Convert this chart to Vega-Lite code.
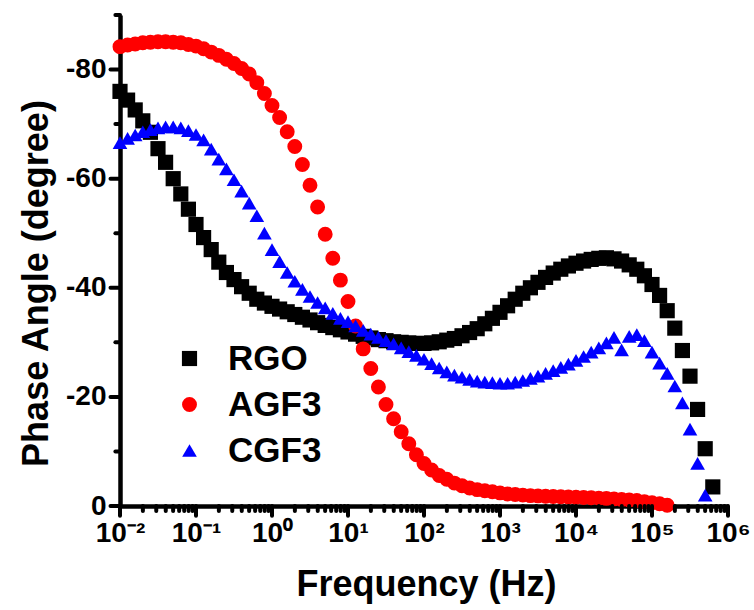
{
  "$schema": "https://vega.github.io/schema/vega-lite/v6.json",
  "width": 608,
  "height": 491,
  "autosize": {"type": "none"},
  "padding": {"left": 120, "top": 15, "right": 26, "bottom": 104},
  "background": "white",
  "config": {
    "view": {"stroke": null},
    "font": "Liberation Sans",
    "axis": {"grid": false, "ticks": false, "domainColor": "black", "domainWidth": 4.5, "labelColor": "black", "labelFont": "Liberation Sans", "labelFontWeight": "bold", "titleFont": "Liberation Sans", "titleFontWeight": "bold", "titleColor": "black"},
    "legend": {"labelFont": "Liberation Sans", "labelFontWeight": "bold", "labelFontSize": 35, "labelColor": "black", "symbolSize": 220, "symbolStrokeWidth": 0, "labelOffset": 21, "rowPadding": 10, "padding": 0}
  },
  "layer": [
    {
      "data": {"values": [
        {"s":"RGO","f":0.01,"p":-76.0},{"s":"RGO","f":0.01259,"p":-74.4},{"s":"RGO","f":0.01585,"p":-72.6},{"s":"RGO","f":0.01995,"p":-70.6},{"s":"RGO","f":0.02512,"p":-68.5},{"s":"RGO","f":0.03162,"p":-65.5},{"s":"RGO","f":0.03981,"p":-63.0},{"s":"RGO","f":0.05012,"p":-60.0},{"s":"RGO","f":0.0631,"p":-57.2},{"s":"RGO","f":0.07943,"p":-54.4},
        {"s":"RGO","f":0.1,"p":-51.6},{"s":"RGO","f":0.1259,"p":-49.2},{"s":"RGO","f":0.1585,"p":-47.0},{"s":"RGO","f":0.1995,"p":-44.7},{"s":"RGO","f":0.2512,"p":-42.8},{"s":"RGO","f":0.3162,"p":-41.5},{"s":"RGO","f":0.3981,"p":-40.2},{"s":"RGO","f":0.5012,"p":-39.0},{"s":"RGO","f":0.631,"p":-37.9},{"s":"RGO","f":0.7943,"p":-37.2},
        {"s":"RGO","f":1,"p":-36.6},{"s":"RGO","f":1.259,"p":-36.1},{"s":"RGO","f":1.585,"p":-35.6},{"s":"RGO","f":1.995,"p":-35.1},{"s":"RGO","f":2.512,"p":-34.6},{"s":"RGO","f":3.162,"p":-34.1},{"s":"RGO","f":3.981,"p":-33.6},{"s":"RGO","f":5.012,"p":-33.1},{"s":"RGO","f":6.31,"p":-32.7},{"s":"RGO","f":7.943,"p":-32.3},
        {"s":"RGO","f":10,"p":-31.9},{"s":"RGO","f":12.59,"p":-31.5},{"s":"RGO","f":15.85,"p":-31.1},{"s":"RGO","f":19.95,"p":-30.8},{"s":"RGO","f":25.12,"p":-30.5},{"s":"RGO","f":31.62,"p":-30.3},{"s":"RGO","f":39.81,"p":-30.1},{"s":"RGO","f":50.12,"p":-30.0},{"s":"RGO","f":63.1,"p":-29.9},{"s":"RGO","f":79.43,"p":-29.8},
        {"s":"RGO","f":100,"p":-29.8},{"s":"RGO","f":125.9,"p":-29.9},{"s":"RGO","f":158.5,"p":-30.1},{"s":"RGO","f":199.5,"p":-30.4},{"s":"RGO","f":251.2,"p":-30.7},{"s":"RGO","f":316.2,"p":-31.2},{"s":"RGO","f":398.1,"p":-31.8},{"s":"RGO","f":501.2,"p":-32.5},{"s":"RGO","f":631,"p":-33.4},{"s":"RGO","f":794.3,"p":-34.4},
        {"s":"RGO","f":1000,"p":-35.5},{"s":"RGO","f":1259,"p":-36.7},{"s":"RGO","f":1585,"p":-37.9},{"s":"RGO","f":1995,"p":-39.0},{"s":"RGO","f":2512,"p":-40.0},{"s":"RGO","f":3162,"p":-41.0},{"s":"RGO","f":3981,"p":-41.9},{"s":"RGO","f":5012,"p":-42.7},{"s":"RGO","f":6310,"p":-43.4},{"s":"RGO","f":7943,"p":-44.0},
        {"s":"RGO","f":10000,"p":-44.5},{"s":"RGO","f":12589,"p":-44.9},{"s":"RGO","f":15849,"p":-45.2},{"s":"RGO","f":19953,"p":-45.4},{"s":"RGO","f":25119,"p":-45.5},{"s":"RGO","f":31623,"p":-45.3},{"s":"RGO","f":39811,"p":-44.9},{"s":"RGO","f":50119,"p":-44.2},{"s":"RGO","f":63096,"p":-43.4},{"s":"RGO","f":79433,"p":-42.2},
        {"s":"RGO","f":100000,"p":-40.6},{"s":"RGO","f":125893,"p":-38.6},{"s":"RGO","f":158489,"p":-35.8},{"s":"RGO","f":199526,"p":-32.6},{"s":"RGO","f":251189,"p":-28.5},{"s":"RGO","f":316228,"p":-23.8},{"s":"RGO","f":398107,"p":-17.7},{"s":"RGO","f":501187,"p":-10.5},{"s":"RGO","f":630957,"p":-3.5},

        {"s":"AGF3","f":0.01,"p":-84.2},{"s":"AGF3","f":0.01259,"p":-84.5},{"s":"AGF3","f":0.01585,"p":-84.7},{"s":"AGF3","f":0.01995,"p":-84.9},{"s":"AGF3","f":0.02512,"p":-85.0},{"s":"AGF3","f":0.03162,"p":-85.1},{"s":"AGF3","f":0.03981,"p":-85.1},{"s":"AGF3","f":0.05012,"p":-85.0},{"s":"AGF3","f":0.0631,"p":-84.9},{"s":"AGF3","f":0.07943,"p":-84.6},
        {"s":"AGF3","f":0.1,"p":-84.3},{"s":"AGF3","f":0.1259,"p":-83.8},{"s":"AGF3","f":0.1585,"p":-83.2},{"s":"AGF3","f":0.1995,"p":-82.6},{"s":"AGF3","f":0.2512,"p":-81.9},{"s":"AGF3","f":0.3162,"p":-81.1},{"s":"AGF3","f":0.3981,"p":-80.2},{"s":"AGF3","f":0.5012,"p":-79.2},{"s":"AGF3","f":0.631,"p":-77.6},{"s":"AGF3","f":0.7943,"p":-75.6},
        {"s":"AGF3","f":1,"p":-73.4},{"s":"AGF3","f":1.259,"p":-71.2},{"s":"AGF3","f":1.585,"p":-68.6},{"s":"AGF3","f":1.995,"p":-65.9},{"s":"AGF3","f":2.512,"p":-62.6},{"s":"AGF3","f":3.162,"p":-58.8},{"s":"AGF3","f":3.981,"p":-54.8},{"s":"AGF3","f":5.012,"p":-49.8},{"s":"AGF3","f":6.31,"p":-45.4},{"s":"AGF3","f":7.943,"p":-41.4},
        {"s":"AGF3","f":10,"p":-37.5},{"s":"AGF3","f":12.59,"p":-33.0},{"s":"AGF3","f":15.85,"p":-28.8},{"s":"AGF3","f":19.95,"p":-25.2},{"s":"AGF3","f":25.12,"p":-21.8},{"s":"AGF3","f":31.62,"p":-18.6},{"s":"AGF3","f":39.81,"p":-16.0},{"s":"AGF3","f":50.12,"p":-13.6},{"s":"AGF3","f":63.1,"p":-11.4},{"s":"AGF3","f":79.43,"p":-9.4},
        {"s":"AGF3","f":100,"p":-7.8},{"s":"AGF3","f":125.9,"p":-6.6},{"s":"AGF3","f":158.5,"p":-5.6},{"s":"AGF3","f":199.5,"p":-4.9},{"s":"AGF3","f":251.2,"p":-4.2},{"s":"AGF3","f":316.2,"p":-3.7},{"s":"AGF3","f":398.1,"p":-3.3},{"s":"AGF3","f":501.2,"p":-3.0},{"s":"AGF3","f":631,"p":-2.8},{"s":"AGF3","f":794.3,"p":-2.6},
        {"s":"AGF3","f":1000,"p":-2.4},{"s":"AGF3","f":1259,"p":-2.2},{"s":"AGF3","f":1585,"p":-2.1},{"s":"AGF3","f":1995,"p":-2.0},{"s":"AGF3","f":2512,"p":-1.9},{"s":"AGF3","f":3162,"p":-1.85},{"s":"AGF3","f":3981,"p":-1.8},{"s":"AGF3","f":5012,"p":-1.75},{"s":"AGF3","f":6310,"p":-1.7},{"s":"AGF3","f":7943,"p":-1.65},
        {"s":"AGF3","f":10000,"p":-1.6},{"s":"AGF3","f":12589,"p":-1.55},{"s":"AGF3","f":15849,"p":-1.5},{"s":"AGF3","f":19953,"p":-1.45},{"s":"AGF3","f":25119,"p":-1.4},{"s":"AGF3","f":31623,"p":-1.3},{"s":"AGF3","f":39811,"p":-1.2},{"s":"AGF3","f":50119,"p":-1.1},{"s":"AGF3","f":63096,"p":-1.0},{"s":"AGF3","f":79433,"p":-0.8},
        {"s":"AGF3","f":100000,"p":-0.6},{"s":"AGF3","f":125893,"p":-0.4},{"s":"AGF3","f":158489,"p":-0.15},

        {"s":"CGF3","f":0.01,"p":-66.6},{"s":"CGF3","f":0.01259,"p":-67.4},{"s":"CGF3","f":0.01585,"p":-68.0},{"s":"CGF3","f":0.01995,"p":-68.6},{"s":"CGF3","f":0.02512,"p":-69.0},{"s":"CGF3","f":0.03162,"p":-69.3},{"s":"CGF3","f":0.03981,"p":-69.5},{"s":"CGF3","f":0.05012,"p":-69.5},{"s":"CGF3","f":0.0631,"p":-69.3},{"s":"CGF3","f":0.07943,"p":-68.8},
        {"s":"CGF3","f":0.1,"p":-68.1},{"s":"CGF3","f":0.1259,"p":-67.1},{"s":"CGF3","f":0.1585,"p":-65.4},{"s":"CGF3","f":0.1995,"p":-63.6},{"s":"CGF3","f":0.2512,"p":-61.8},{"s":"CGF3","f":0.3162,"p":-59.8},{"s":"CGF3","f":0.3981,"p":-57.7},{"s":"CGF3","f":0.5012,"p":-55.5},{"s":"CGF3","f":0.631,"p":-53.2},{"s":"CGF3","f":0.7943,"p":-50.0},
        {"s":"CGF3","f":1,"p":-47.0},{"s":"CGF3","f":1.259,"p":-44.8},{"s":"CGF3","f":1.585,"p":-42.8},{"s":"CGF3","f":1.995,"p":-41.2},{"s":"CGF3","f":2.512,"p":-39.7},{"s":"CGF3","f":3.162,"p":-38.4},{"s":"CGF3","f":3.981,"p":-37.3},{"s":"CGF3","f":5.012,"p":-36.3},{"s":"CGF3","f":6.31,"p":-35.3},{"s":"CGF3","f":7.943,"p":-34.4},
        {"s":"CGF3","f":10,"p":-33.8},{"s":"CGF3","f":12.59,"p":-33.0},{"s":"CGF3","f":15.85,"p":-32.2},{"s":"CGF3","f":19.95,"p":-31.5},{"s":"CGF3","f":25.12,"p":-30.9},{"s":"CGF3","f":31.62,"p":-30.3},{"s":"CGF3","f":39.81,"p":-29.7},{"s":"CGF3","f":50.12,"p":-29.0},{"s":"CGF3","f":63.1,"p":-28.3},{"s":"CGF3","f":79.43,"p":-27.6},
        {"s":"CGF3","f":100,"p":-26.9},{"s":"CGF3","f":125.9,"p":-26.1},{"s":"CGF3","f":158.5,"p":-25.3},{"s":"CGF3","f":199.5,"p":-24.6},{"s":"CGF3","f":251.2,"p":-24.0},{"s":"CGF3","f":316.2,"p":-23.6},{"s":"CGF3","f":398.1,"p":-23.2},{"s":"CGF3","f":501.2,"p":-22.9},{"s":"CGF3","f":631,"p":-22.7},{"s":"CGF3","f":794.3,"p":-22.6},
        {"s":"CGF3","f":1000,"p":-22.5},{"s":"CGF3","f":1259,"p":-22.5},{"s":"CGF3","f":1585,"p":-22.7},{"s":"CGF3","f":1995,"p":-23.0},{"s":"CGF3","f":2512,"p":-23.4},{"s":"CGF3","f":3162,"p":-23.8},{"s":"CGF3","f":3981,"p":-24.3},{"s":"CGF3","f":5012,"p":-24.8},{"s":"CGF3","f":6310,"p":-25.4},{"s":"CGF3","f":7943,"p":-26.0},
        {"s":"CGF3","f":10000,"p":-26.7},{"s":"CGF3","f":12589,"p":-27.4},{"s":"CGF3","f":15849,"p":-28.2},{"s":"CGF3","f":19953,"p":-29.0},{"s":"CGF3","f":25119,"p":-29.9},{"s":"CGF3","f":31623,"p":-30.9},{"s":"CGF3","f":39811,"p":-28.6},{"s":"CGF3","f":50119,"p":-31.1},{"s":"CGF3","f":63096,"p":-31.4},{"s":"CGF3","f":79433,"p":-30.3},
        {"s":"CGF3","f":100000,"p":-28.2},{"s":"CGF3","f":125893,"p":-26.2},{"s":"CGF3","f":158489,"p":-24.3},{"s":"CGF3","f":199526,"p":-22.0},{"s":"CGF3","f":251189,"p":-18.9},{"s":"CGF3","f":316228,"p":-14.1},{"s":"CGF3","f":398107,"p":-7.8},{"s":"CGF3","f":501187,"p":-2.0}
      ]},
      "mark": {"type": "point", "filled": true, "opacity": 1, "strokeWidth": 0},
      "encoding": {
        "x": {
          "field": "f", "type": "quantitative",
          "scale": {"type": "log", "domain": [0.01, 1000000], "nice": false},
          "axis": {
            "orient": "bottom",
            "title": "Frequency (Hz)",
            "titleFontSize": 36, "titleX": 306, "titleY": 89, "titleBaseline": "alphabetic", "titleAlign": "center",
            "values": [0.01,0.1,1,10,100,1000,10000,100000,1000000],
            "labelExpr": "['10⁻²','10⁻¹','10⁰','10¹','10²','10³','10⁴','10⁵','10⁶'][round(log(datum.value)/LN10)+2]",
            "labelFontSize": 28, "labelPadding": 13, "labelFlush": false, "labelOverlap": false, "labelBaseline": "top"
          }
        },
        "y": {
          "field": "p", "type": "quantitative",
          "scale": {"domain": [-90, 0], "reverse": true, "nice": false, "zero": false},
          "axis": {
            "orient": "left",
            "title": "Phase Angle (degree)",
            "titleFontSize": 36, "titleAngle": 270, "titleX": -73, "titleY": 268, "titleBaseline": "alphabetic", "titleAlign": "center",
            "values": [-80,-60,-40,-20,0],
            "labelExpr": "'' + datum.value",
            "labelFontSize": 28, "labelPadding": 14, "labelFlush": false, "labelOverlap": false
          }
        },
        "color": {
          "field": "s", "type": "nominal",
          "scale": {"domain": ["RGO", "AGF3", "CGF3"], "range": ["#000000", "#FF0000", "#0000FF"]},
          "legend": {"title": null, "orient": "none", "legendX": 52, "legendY": 326}
        },
        "shape": {
          "field": "s", "type": "nominal",
          "scale": {"domain": ["RGO", "AGF3", "CGF3"], "range": ["square", "circle", "triangle-up"]},
          "legend": {"title": null, "orient": "none", "legendX": 52, "legendY": 326}
        },
        "size": {
          "field": "s", "type": "nominal",
          "scale": {"domain": ["RGO", "AGF3", "CGF3"], "range": [230, 215, 340]},
          "legend": null
        }
      }
    },
    {
      "data": {"values": [{"t":0.01},{"t":0.1},{"t":1},{"t":10},{"t":100},{"t":1000},{"t":10000},{"t":100000},{"t":1000000}]},
      "mark": {"type": "rule", "color": "black", "strokeWidth": 4, "strokeCap": "round", "opacity": 1, "clip": false},
      "encoding": {"x": {"field": "t", "type": "quantitative"}, "y": {"datum": 0}, "y2": {"datum": 1.8}}
    },
    {
      "data": {"values": [{"t":0.02},{"t":0.03},{"t":0.04},{"t":0.05},{"t":0.06},{"t":0.07},{"t":0.08},{"t":0.09},{"t":0.2},{"t":0.3},{"t":0.4},{"t":0.5},{"t":0.6},{"t":0.7},{"t":0.8},{"t":0.9},{"t":2},{"t":3},{"t":4},{"t":5},{"t":6},{"t":7},{"t":8},{"t":9},{"t":20},{"t":30},{"t":40},{"t":50},{"t":60},{"t":70},{"t":80},{"t":90},{"t":200},{"t":300},{"t":400},{"t":500},{"t":600},{"t":700},{"t":800},{"t":900},{"t":2000},{"t":3000},{"t":4000},{"t":5000},{"t":6000},{"t":7000},{"t":8000},{"t":9000},{"t":20000},{"t":30000},{"t":40000},{"t":50000},{"t":60000},{"t":70000},{"t":80000},{"t":90000},{"t":200000},{"t":300000},{"t":400000},{"t":500000},{"t":600000},{"t":700000},{"t":800000},{"t":900000}]},
      "mark": {"type": "rule", "color": "black", "strokeWidth": 4, "strokeCap": "round", "opacity": 1, "clip": false},
      "encoding": {"x": {"field": "t", "type": "quantitative"}, "y": {"datum": 0}, "y2": {"datum": 0.9}}
    },
    {
      "data": {"values": [{"v":-80},{"v":-60},{"v":-40},{"v":-20},{"v":0}]},
      "mark": {"type": "rule", "color": "black", "strokeWidth": 4, "strokeCap": "round", "opacity": 1, "clip": false},
      "encoding": {"y": {"field": "v", "type": "quantitative"}, "x": {"datum": 0.01}, "x2": {"datum": 0.0075}}
    },
    {
      "data": {"values": [{"v":-90},{"v":-70},{"v":-50},{"v":-30},{"v":-10}]},
      "mark": {"type": "rule", "color": "black", "strokeWidth": 4, "strokeCap": "round", "opacity": 1, "clip": false},
      "encoding": {"y": {"field": "v", "type": "quantitative"}, "x": {"datum": 0.01}, "x2": {"datum": 0.0087}}
    }
  ]
}
